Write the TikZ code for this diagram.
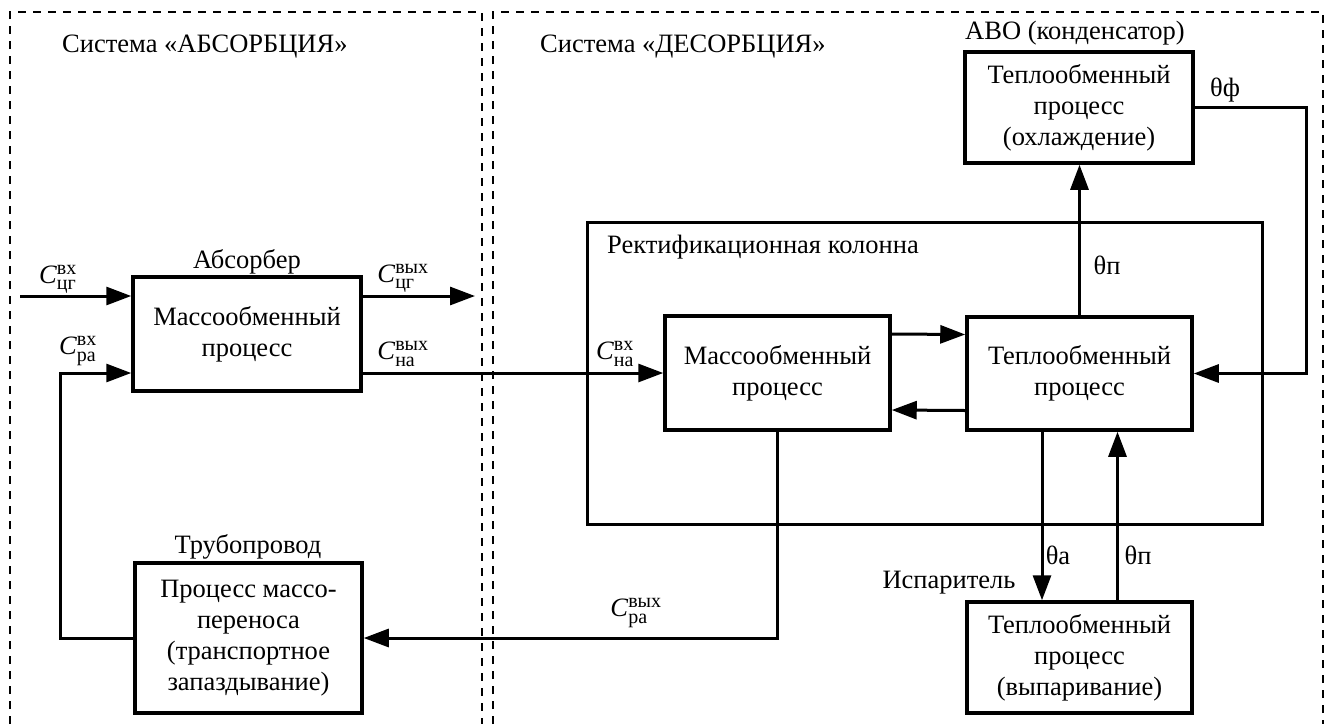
\documentclass[tikz,border=0pt]{standalone}
\usepackage{amsmath}
\usepackage{fontspec}
\setmainfont{Liberation Serif}
\usetikzlibrary{arrows.meta}
\DeclareMathSizes{26.5}{26.5}{20}{16}

\newcommand{\conc}[2]{\textit{C}\/${}_{\text{#1}}^{\text{#2}}$}

\begin{document}
\begin{tikzpicture}[x=1pt,y=-1pt,
  every node/.style={font=\fontsize{26.5}{31}\selectfont,inner sep=0pt},
  proc/.style={draw,line width=3.5pt,align=center},
  flow/.style={line width=3pt,-{Triangle[length=25pt,width=18pt]}},
  frame/.style={line width=1.8pt,dash pattern=on 8pt off 7pt}]
\useasboundingbox (0,0) rectangle (1331,724);
% system frames
\draw[frame] (10,724) -- (10,12) -- (482,12) -- (482,724);
\draw[frame] (493,724) -- (493,12) -- (1323,12) -- (1323,724);
\node[anchor=west] (tabs) at (62,47) {Система «АБСОРБЦИЯ»};
\node[anchor=west] (tdes) at (540,47) {Система «ДЕСОРБЦИЯ»};
% absorption side
\node[proc,minimum width=228pt,minimum height=114pt] (absb) at (247,334) {Массообменный\\процесс};
\node (absbl) at (247,262) {Абсорбер};
\node[proc,minimum width=227pt,minimum height=150pt] (pipe) at (248.5,638) {Процесс массо-\\переноса\\(транспортное\\запаздывание)};
\node (pipel) at (248,547) {Трубопровод};
% desorption side
\node[proc,line width=3pt,minimum width=675pt,minimum height=302pt] (colm) at (924.5,373) {};
\node[anchor=west] (colml) at (607,247) {Ректификационная колонна};
\node[proc,minimum width=225pt,minimum height=114pt] (mass) at (777.5,373) {Массообменный\\процесс};
\node[proc,minimum width=225pt,minimum height=113pt] (heat) at (1079.5,373.5) {Теплообменный\\процесс};
\node[proc,minimum width=228pt,minimum height=111pt] (cool) at (1079,107.5) {Теплообменный\\процесс\\(охлаждение)};
\node[anchor=west] (cooll) at (965,33) {АВО (конденсатор)};
\node[proc,minimum width=225pt,minimum height=111pt] (evap) at (1079.5,657.5) {Теплообменный\\процесс\\(выпаривание)};
\node (evapl) at (949,583) {Испаритель};
% flows
\coordinate (cgin) at (20,296);
\coordinate (cgout) at (475,296);
\coordinate (fb) at (60,373);
\coordinate (rt) at (1306,373.5);
\draw[flow] (cgin) -- (cgin -| absb.west);
\draw[flow] (cgout -| absb.east) -- (cgout);
\draw[flow] (mass.west -| absb.east) -- (mass.west);
\draw[flow] (pipe.west) -| (fb) -- (fb -| absb.west);
\draw[flow] (mass.south) |- (pipe.east);
\draw[flow] ([yshift=39pt]mass.east) -- ([yshift=39pt]heat.west);
\draw[flow] ([yshift=-37pt]heat.west) -- ([yshift=-37pt]mass.east);
\draw[flow] (heat.north) -- (heat.north |- cool.south);
\draw[flow] (cool.east) -| (rt) -- (heat.east);
\draw[flow] ([xshift=-37.5pt]heat.south) -- ([xshift=-37.5pt]evap.north);
\draw[flow] ([xshift=38pt]evap.north) -- ([xshift=38pt]heat.south);
% labels
\node (lcgin) at (58,279) {\conc{цг}{вх}};
\node (lcgout) at (403,278) {\conc{цг}{вых}};
\node (lrain) at (78,351) {\conc{ра}{вх}};
\node (lnaout) at (403,354) {\conc{на}{вых}};
\node (lnain) at (615,354) {\conc{на}{вх}};
\node (lraout) at (636,613) {\conc{ра}{вых}};
\node (tp1) at (1107,265) {θп};
\node (tf) at (1225,90) {θф};
\node (ta) at (1058,555) {θа};
\node (tp2) at (1138,555) {θп};
\end{tikzpicture}
\end{document}
